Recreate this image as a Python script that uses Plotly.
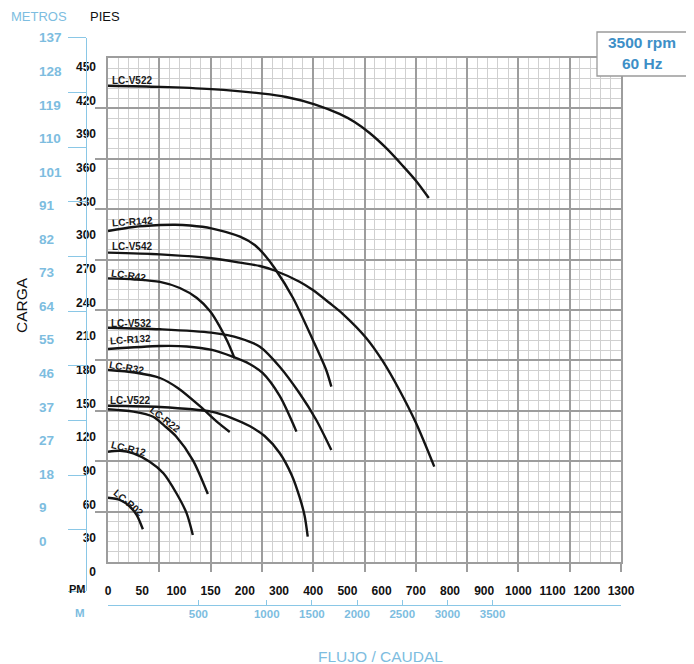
import numpy as np
import plotly.graph_objects as go

W, H = 694, 664
OFF = 8  # page body margin of the browser

# ---------------- data ----------------
gpm_ticks = [0, 50, 100, 150, 200, 300, 400, 500, 600, 700, 800, 900, 1000, 1100, 1200, 1300]
lpm_ticks = [500, 1000, 1500, 2000, 2500, 3000, 3500]
pies_ticks = list(range(0, 451, 30))
metros_labels = [0, 9, 18, 27, 37, 46, 55, 64, 73, 82, 91, 101, 110, 119, 128, 137]

v522_hi_gpm = [0, 76, 151, 253, 321, 404, 477, 521, 565, 613, 661, 701, 738]
v522_hi_ft = [433, 432, 430, 426, 423, 416.5, 407.9, 400.7, 390.9, 377.6, 362.0, 348.2, 333]

r142_gpm = [0, 37, 76, 98, 120, 151, 193, 229, 258, 287, 341, 399, 438, 453]
r142_ft = [303.6, 307.2, 308.9, 309.2, 308.5, 306.0, 298.5, 291.1, 282.2, 270.6, 243.9, 206.5, 179.7, 164.9]

v542_gpm = [0, 76, 151, 193, 244, 287, 360, 399, 448, 487, 555, 603, 652, 701, 754]
v542_ft = [284.3, 282.8, 279.3, 275.4, 272.4, 268.4, 258.4, 251.0, 239.4, 229.6, 208.3, 187.8, 161.9, 132.2, 93.6]

r42_gpm = [0, 39, 76, 105, 130, 149, 163, 175, 185]
r42_ft = [261.4, 260.4, 258.2, 252.8, 243.9, 232.3, 218.9, 204.6, 190.2]

v532_gpm = [0, 76, 151, 193, 244, 302, 360, 409, 453]
v532_ft = [217.4, 216.0, 213.0, 208.0, 200.5, 182.7, 159.0, 135.2, 108.4]

r132_gpm = [0, 76, 115, 152, 182, 214, 252, 302, 351]
r132_ft = [198.4, 201.1, 200.7, 197.6, 191.6, 185.1, 177.1, 156.6, 124.8]

r32_gpm = [0, 39, 76, 102, 134, 159, 178]
r32_ft = [179.7, 177.5, 172.6, 163.7, 147.7, 133.7, 124.5]

v522_lo_gpm = [0, 76, 151, 182, 214, 258, 302, 337, 360, 375, 384]
v522_lo_ft = [147.9, 146.8, 142.6, 136.7, 129.8, 120.9, 105.8, 86.2, 66.6, 49.7, 31.2]

r22_gpm = [0, 37, 66, 83, 100, 124, 146]
r22_ft = [144.7, 142.6, 138.1, 129.8, 120.3, 99.5, 69.2]

r12_gpm = [0, 17.5, 37, 61, 81, 100, 115, 124]
r12_ft = [106.9, 107.8, 105.5, 98.0, 87.7, 69.9, 52.0, 32.7]

r02_gpm = [0, 17.5, 32, 42, 51]
r02_ft = [65.9, 63.9, 57.9, 50.5, 37.8]

curves = [
    ("LC-V522", v522_hi_gpm, v522_hi_ft),
    ("LC-R142", r142_gpm, r142_ft),
    ("LC-V542", v542_gpm, v542_ft),
    ("LC-R42", r42_gpm, r42_ft),
    ("LC-V532", v532_gpm, v532_ft),
    ("LC-R132", r132_gpm, r132_ft),
    ("LC-R32", r32_gpm, r32_ft),
    ("LC-V522", v522_lo_gpm, v522_lo_ft),
    ("LC-R22", r22_gpm, r22_ft),
    ("LC-R12", r12_gpm, r12_ft),
    ("LC-R02", r02_gpm, r02_ft),
]

# label placement (gpm, ft, angle) for each curve, in the same order
label_pos = [
    (35, 437.7, 0), (36.5, 312.5, -4), (35.7, 290.0, 0), (30.6, 264.1, 8),
    (33.6, 221.6, 0), (32.8, 206.5, -4), (27.3, 182.1, 10), (32.1, 153.0, 0),
    (83.2, 135.2, 38), (29.6, 110.0, 14), (29.6, 61.8, 40),
]

# ---------------- scales ----------------
IDX = np.arange(len(gpm_ticks))


def to_u(gpm):
    """GPM -> position along the (piecewise) printed flow scale."""
    return np.interp(gpm, gpm_ticks, IDX)


GPM_PER_LPM = 1 / 3.78541

# vertical scale (feet), grid spans Y0..Y1
FT_PX = 505.0 / 450.0
Y1 = (571.7 - 58) / FT_PX
Y0 = (571.7 - 562) / FT_PX
MAJ = (Y1 - Y0) / 10

# meters scale for left blue axis
M_PX = (541 - 37.7) / (450 * 0.3048)
M0 = (541 - 591) / M_PX
M1 = (541 - 37.5) / M_PX
metros_marks = [137.1, 122.2, 107.3, 92.4, 77.5, 62.6, 47.7, 32.8, 17.9, 3.0, M0]


def fx(px):
    return (px - OFF) / W


def fy(py):
    return 1 - (py - OFF) / H


GRID_MAJ = "#9d9d9d"
GRID_MIN = "#d0d0d0"
BLUE_LABEL = "#7dbde0"
BLUE_LINE = "#8ac7e6"
BOX_BLUE = "#3d8fc7"
FONT = "Liberation Sans"

fig = go.Figure()

for name, g, f in curves:
    fig.add_trace(go.Scatter(
        x=to_u(np.array(g, dtype=float)), y=f, mode="lines", name=name,
        line=dict(color="#141414", width=2.4, shape="spline", smoothing=0.8),
        showlegend=False, hoverinfo="skip"))

# dummy traces so the label axes are drawn
for xa in ["x2", "x3", "x5"]:
    fig.add_trace(go.Scatter(x=[None], y=[None], xaxis=xa, yaxis="y", showlegend=False, hoverinfo="skip"))
for ya in ["y2", "y3", "y4"]:
    fig.add_trace(go.Scatter(x=[None], y=[None], xaxis="x4", yaxis=ya, showlegend=False, hoverinfo="skip"))

lpm_pos = list(to_u(np.array(lpm_ticks) * GPM_PER_LPM))

fig.update_layout(
    width=W, height=H,
    margin=dict(l=0, r=0, t=0, b=0, pad=0, autoexpand=False),
    paper_bgcolor="white", plot_bgcolor="rgba(0,0,0,0)",
    xaxis=dict(
        domain=[fx(108), fx(621)], range=[0, 15], anchor="y", automargin=False,
        tickmode="array", tickvals=[1.5 * k for k in range(1, 11)],
        ticks="outside", ticklen=8, tickwidth=1.6, tickcolor=GRID_MAJ,
        showticklabels=False, showgrid=True, gridcolor=GRID_MAJ, gridwidth=1.6,
        minor=dict(tick0=0, dtick=0.3, showgrid=True, gridcolor=GRID_MIN, gridwidth=1, ticks=""),
        showline=True, mirror=True, linecolor=GRID_MAJ, linewidth=1.6, zeroline=False,
    ),
    yaxis=dict(
        domain=[fy(562), fy(58)], range=[Y0, Y1], anchor="x", automargin=False,
        tickmode="array", tickvals=[Y0 + MAJ * k for k in range(1, 10)],
        ticks="outside", ticklen=11, tickwidth=1.6, tickcolor=GRID_MAJ,
        showticklabels=False, showgrid=True, gridcolor=GRID_MAJ, gridwidth=1.6,
        minor=dict(tick0=Y0, dtick=MAJ / 5, showgrid=True, gridcolor=GRID_MIN, gridwidth=1, ticks=""),
        showline=True, mirror=True, linecolor=GRID_MAJ, linewidth=1.6, zeroline=False,
    ),
    # GPM labels
    xaxis2=dict(
        overlaying="x", range=[0, 15], anchor="free", position=fy(582), side="bottom",
        automargin=False,
        tickmode="array", tickvals=list(IDX), ticktext=[str(v) for v in gpm_ticks],
        ticks="", showline=False, showgrid=False, zeroline=False,
        tickfont=dict(family=FONT, size=12, color="#111111", weight="bold"),
    ),
    # LPM labels (blue)
    xaxis3=dict(
        overlaying="x", range=[0, 15], anchor="free", position=fy(605), side="bottom",
        automargin=False,
        tickmode="array", tickvals=lpm_pos, ticktext=[str(v) for v in lpm_ticks],
        ticks="", showline=False, showgrid=False, zeroline=False,
        tickfont=dict(family=FONT, size=11.5, color=BLUE_LABEL, weight="bold"),
    ),
    # LPM axis line (blue)
    xaxis5=dict(
        overlaying="x", range=[0, 15], anchor="free", position=fy(605), side="bottom",
        automargin=False,
        tickmode="array", tickvals=lpm_pos + [15],
        ticks="inside", ticklen=5, tickwidth=1.2, tickcolor=BLUE_LINE,
        showticklabels=False, showline=True, linecolor=BLUE_LINE, linewidth=1.3,
        showgrid=False, zeroline=False,
    ),
    xaxis4=dict(visible=False, domain=[0, 1], range=[0, 1], anchor="free", position=0, automargin=False),
    # pies labels
    yaxis2=dict(
        domain=[fy(590), fy(58)], range=[(571.7 - 590) / FT_PX, Y1],
        anchor="free", position=fx(96), side="left", automargin=False,
        tickmode="array", tickvals=pies_ticks, ticktext=[str(v) for v in pies_ticks],
        ticks="", showline=False, showgrid=False, zeroline=False,
        tickfont=dict(family=FONT, size=12, color="#111111", weight="bold"),
    ),
    # metros labels
    yaxis3=dict(
        domain=[fy(591), fy(37.5)], range=[M0, M1],
        anchor="free", position=fx(38), side="right", automargin=False,
        tickmode="array", tickvals=[v * 0.3048 for v in pies_ticks],
        ticktext=[str(v) for v in metros_labels],
        ticks="", showline=False, showgrid=False, zeroline=False,
        tickfont=dict(family=FONT, size=13.5, color=BLUE_LABEL, weight="bold"),
    ),
    # metros blue axis line
    yaxis4=dict(
        domain=[fy(591), fy(37.5)], range=[M0, M1],
        anchor="free", position=fx(86), side="left", automargin=False,
        tickmode="array", tickvals=metros_marks,
        ticks="outside", ticklen=18, tickwidth=1.3, tickcolor=BLUE_LINE,
        showticklabels=False, showline=True, linecolor=BLUE_LINE, linewidth=1.4,
        showgrid=False, zeroline=False,
    ),
)

annotations = []
for (name, g, f), (lg, lf, ang) in zip(curves, label_pos):
    annotations.append(dict(
        x=float(to_u(lg)), y=lf, xref="x", yref="y", text=name, showarrow=False,
        textangle=ang, font=dict(family=FONT, size=10, color="#1a1a1a", weight="bold")))

annotations += [
    dict(x=fx(9), y=fy(16), xref="paper", yref="paper", text="METROS", showarrow=False,
         xanchor="left", yanchor="middle", font=dict(family=FONT, size=13, color=BLUE_LABEL)),
    dict(x=fx(88), y=fy(16), xref="paper", yref="paper", text="PIES", showarrow=False,
         xanchor="left", yanchor="middle", font=dict(family=FONT, size=13, color="#111111")),
    dict(x=fx(21), y=fy(305), xref="paper", yref="paper", text="CARGA", showarrow=False,
         textangle=-90, xanchor="center", yanchor="middle",
         font=dict(family=FONT, size=15.5, color="#111111")),
    dict(x=fx(380), y=fy(656), xref="paper", yref="paper", text="FLUJO / CAUDAL", showarrow=False,
         xanchor="center", yanchor="middle", font=dict(family=FONT, size=15.5, color=BLUE_LABEL)),
    dict(x=fx(88), y=fy(589), xref="paper", yref="paper", text="PM", showarrow=False,
         xanchor="right", yanchor="middle", font=dict(family=FONT, size=11, color="#111111", weight="bold")),
    dict(x=fx(80), y=fy(613), xref="paper", yref="paper", text="M", showarrow=False,
         xanchor="center", yanchor="middle", font=dict(family=FONT, size=11.5, color=BLUE_LABEL, weight="bold")),
    dict(x=fx(642), y=fy(43), xref="paper", yref="paper", text="3500 rpm", showarrow=False,
         xanchor="center", yanchor="middle", font=dict(family=FONT, size=15.5, color=BOX_BLUE, weight="bold")),
    dict(x=fx(642), y=fy(63), xref="paper", yref="paper", text="60 Hz", showarrow=False,
         xanchor="center", yanchor="middle", font=dict(family=FONT, size=15.5, color=BOX_BLUE, weight="bold")),
]

fig.update_layout(
    annotations=annotations,
    shapes=[dict(type="rect", xref="paper", yref="paper",
                 x0=fx(597), x1=fx(688), y0=fy(76), y1=fy(32),
                 line=dict(color="#9a9a9a", width=1.3), fillcolor="white", layer="above")],
)

fig.write_html("out.html")
